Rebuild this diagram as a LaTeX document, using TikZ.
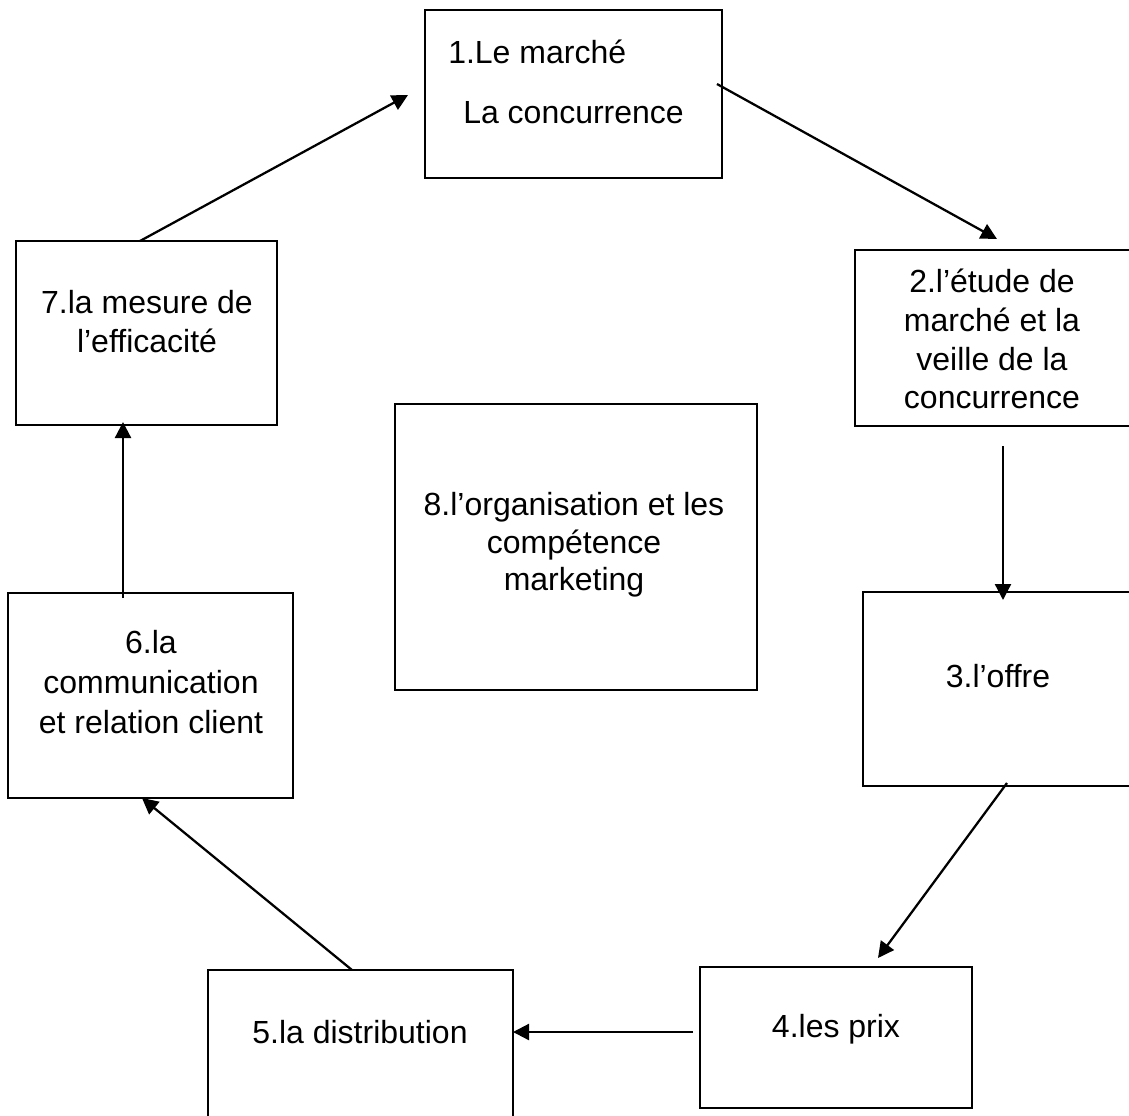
\documentclass[tikz,border=0pt]{standalone}
\usepackage{fontspec}
\setmainfont{Liberation Sans}
\usetikzlibrary{arrows.meta,fit}

\tikzset{
  box/.style={draw=black, line width=1.9pt, inner sep=0pt, rectangle},
  lbl/.style={inner sep=0pt, font=\fontsize{24pt}{29pt}\selectfont},
  flow/.style={line width=1.7pt, -{Triangle[length=12pt,width=12pt]}}
}

\begin{document}
\begin{tikzpicture}[x=0.75pt, y=-0.75pt]
  \useasboundingbox (0,0) rectangle (1129,1115);
  \clip (0,0) rectangle (1129,1115);

  % stage boxes (boxes 2, 3 and 5 run past the page edge)
  \node[box, fit={(425,10) (722,178)}]   (b1) {};
  \node[box, fit={(855,250) (1160,426)}] (b2) {};
  \node[box, fit={(863,592) (1160,786)}] (b3) {};
  \node[box, fit={(700,967) (972,1108)}] (b4) {};
  \node[box, fit={(208,970) (513,1140)}] (b5) {};
  \node[box, fit={(8,593) (293,798)}]    (b6) {};
  \node[box, fit={(16,241) (277,425)}]   (b7) {};
  \node[box, fit={(395,404) (757,690)}]  (b8) {};

  % labels
  \node[lbl, anchor=base west] (t1a) at (448,63)  {1.Le marché};
  \node[lbl, anchor=base west] (t1b) at (463,123) {La concurrence};

  \node[lbl, anchor=base] (t2a) at (992,292) {2.l’étude de};
  \node[lbl, anchor=base] (t2b) at (992,331) {marché et la};
  \node[lbl, anchor=base] (t2c) at (992,370) {veille de la};
  \node[lbl, anchor=base] (t2d) at (992,408) {concurrence};

  \node[lbl, anchor=base] (t3) at (998,687) {3.l’offre};
  \node[lbl, anchor=base] (t4) at (836,1037) {4.les prix};
  \node[lbl, anchor=base] (t5) at (360,1043) {5.la distribution};

  \node[lbl, anchor=base] (t6a) at (151,653) {6.la};
  \node[lbl, anchor=base] (t6b) at (151,693) {communication};
  \node[lbl, anchor=base] (t6c) at (151,733) {et relation client};

  \node[lbl, anchor=base] (t7a) at (147,313) {7.la mesure de};
  \node[lbl, anchor=base] (t7b) at (147,352) {l’efficacité};

  \node[lbl, anchor=base] (t8a) at (574,515) {8.l’organisation et les};
  \node[lbl, anchor=base] (t8b) at (574,553) {compétence};
  \node[lbl, anchor=base] (t8c) at (574,590) {marketing};

  % connector ends
  \coordinate (s71) at (140,241);  \coordinate (e71) at (408,95);
  \coordinate (s12) at (717,84);   \coordinate (e12) at (997,239);
  \coordinate (s23) at (1003,446); \coordinate (e23) at (1003,600);
  \coordinate (s34) at (1007,783); \coordinate (e34) at (878,958);
  \coordinate (s45) at (693,1032); \coordinate (e45) at (513,1032);
  \coordinate (s56) at (352,970);  \coordinate (e56) at (142,798);
  \coordinate (s67) at (123,598);  \coordinate (e67) at (123,422);

  % cycle of arrows
  \draw[flow] (s71) -- (e71);
  \draw[flow] (s12) -- (e12);
  \draw[flow] (s23) -- (e23);
  \draw[flow] (s34) -- (e34);
  \draw[flow] (s45) -- (e45);
  \draw[flow] (s56) -- (e56);
  \draw[flow] (s67) -- (e67);
\end{tikzpicture}
\end{document}
